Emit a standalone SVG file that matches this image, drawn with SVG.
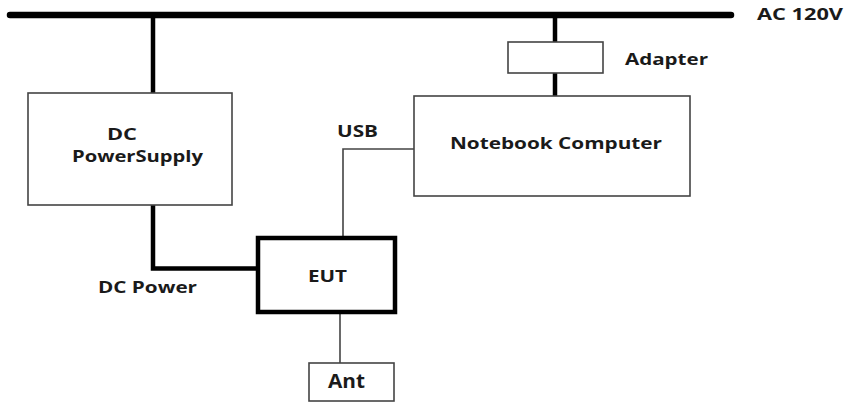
<svg xmlns="http://www.w3.org/2000/svg" width="846" height="403" viewBox="0 0 846 403">
<style>
.box{fill:#fff;stroke:#444;stroke-width:1.6}
.thick{fill:none;stroke:#000;stroke-width:4.5}
.thin{fill:none;stroke:#444;stroke-width:1.6}
text{font-family:"Open Sans","Liberation Sans",sans-serif;font-weight:bold;font-size:16px;fill:#1a1a1a}
</style>
<rect width="846" height="403" fill="#fff"/>
<g id="connectors">
<line x1="10" y1="15" x2="731" y2="15" stroke="#000" stroke-width="6.5" stroke-linecap="round"/>
<line class="thick" x1="153" y1="15" x2="153" y2="93"/>
<line class="thick" x1="555" y1="15" x2="555" y2="42"/>
<line class="thick" x1="555" y1="73" x2="555" y2="96"/>
<polyline class="thick" points="153,205 153,268.5 257,268.5"/>
<polyline class="thin" points="414,149 343,149 343,237"/>
<line class="thin" x1="340" y1="312" x2="340" y2="363"/>
</g>
<g id="ac"><text x="757" y="20" textLength="86" lengthAdjust="spacingAndGlyphs">AC 120V</text></g>
<g id="adapter">
<rect class="box" x="508" y="42" width="95" height="31"/>
<text x="625" y="65" textLength="83" lengthAdjust="spacingAndGlyphs">Adapter</text>
</g>
<g id="dcps">
<rect class="box" x="28" y="93" width="204" height="112"/>
<text x="107" y="140" textLength="30" lengthAdjust="spacingAndGlyphs">DC</text>
<text x="72" y="162" textLength="131" lengthAdjust="spacingAndGlyphs">PowerSupply</text>
</g>
<g id="notebook">
<rect class="box" x="414" y="96" width="276" height="100"/>
<text x="450" y="149" textLength="212" lengthAdjust="spacingAndGlyphs">Notebook Computer</text>
</g>
<g id="usb"><text x="337" y="137" textLength="41" lengthAdjust="spacingAndGlyphs">USB</text></g>
<g id="dcpower"><text x="98" y="293" textLength="99" lengthAdjust="spacingAndGlyphs">DC Power</text></g>
<g id="eut">
<rect x="258" y="238" width="137" height="74" fill="#fff" stroke="#000" stroke-width="4.5"/>
<text x="308" y="282" textLength="39" lengthAdjust="spacingAndGlyphs">EUT</text>
</g>
<g id="ant">
<rect class="box" x="309" y="363" width="85" height="38"/>
<text x="328" y="388" style="font-size:20px" textLength="37" lengthAdjust="spacingAndGlyphs">Ant</text>
</g>
</svg>
